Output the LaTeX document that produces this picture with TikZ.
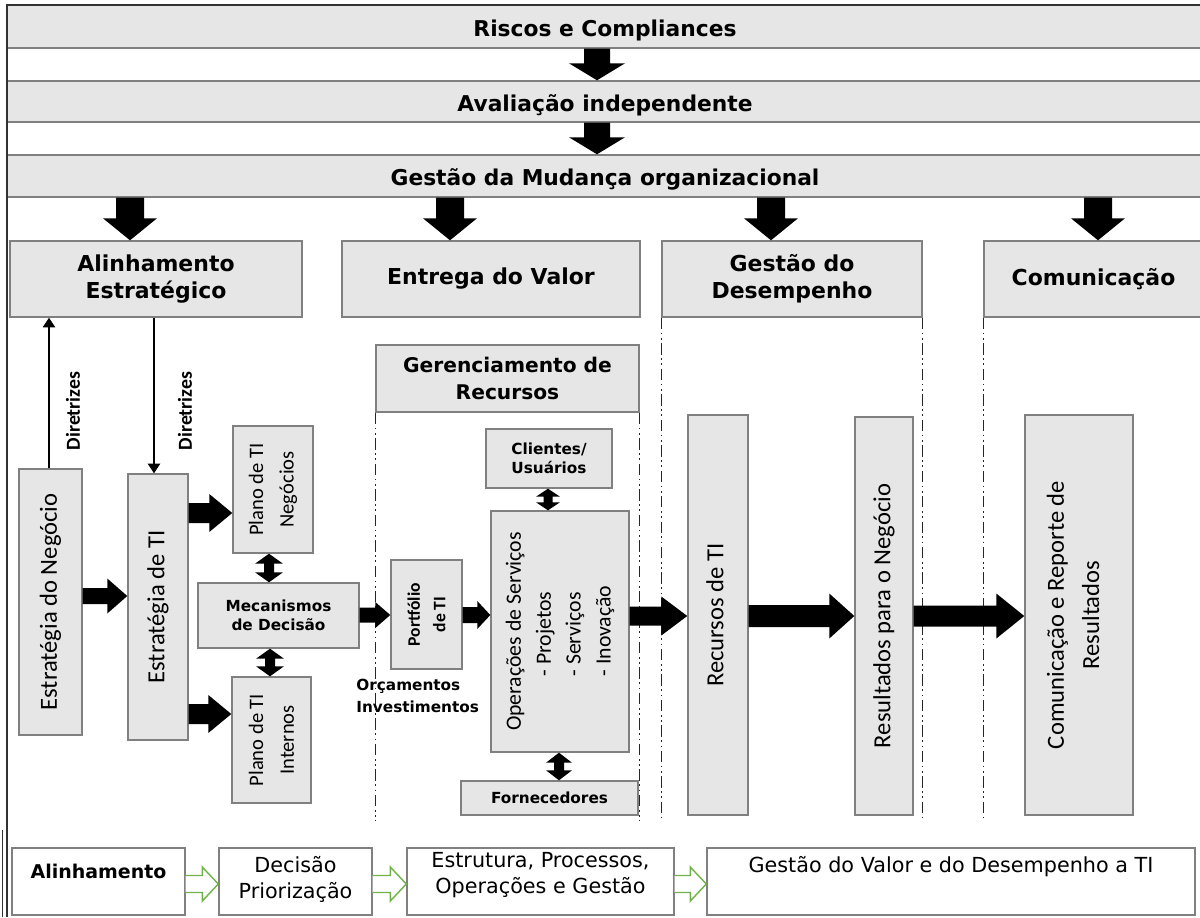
\documentclass[tikz,border=0pt]{standalone}
\usepackage{fontspec}
\setmainfont{DejaVu Sans}
\newfontfamily\calfont{Carlito}
\usetikzlibrary{calc,arrows.meta}

\definecolor{boxgray}{RGB}{230,230,230}
\definecolor{edgegray}{RGB}{128,128,128}
\definecolor{framegray}{RGB}{50,50,50}
\definecolor{hollowgreen}{RGB}{112,180,72}

\newcommand\fs[2]{\fontsize{#1}{#2}\selectfont}

% rectangle node given by its corners (x1,y1)-(x2,y2), in px with y pointing down
\newcommand\cbox[7][]{%
  \node[#1, minimum width={(#4-#2)*0.02cm}, minimum height={(#5-#3)*0.02cm}]
    (#6) at ({(#2+#4)/2},{(#3+#5)/2}) {#7};}

% right-pointing block arrow: tail, tip, shaft half-height, head half-height, head length
\newcommand\rarrow[6][fill=black]{%
  \path[#1] ($(#2)+(0,-#4)$) -- ($(#3)+(-#6,-#4)$) -- ($(#3)+(-#6,-#5)$) -- (#3)
    -- ($(#3)+(-#6,#5)$) -- ($(#3)+(-#6,#4)$) -- ($(#2)+(0,#4)$);}

% downward block arrow: tail, tip, shaft half-width, head half-width, head length
\newcommand\darrow[6][fill=black]{%
  \path[#1] ($(#2)+(-#4,0)$) -- ($(#3)+(-#4,-#6)$) -- ($(#3)+(-#5,-#6)$) -- (#3)
    -- ($(#3)+(#5,-#6)$) -- ($(#3)+(#4,-#6)$) -- ($(#2)+(#4,0)$) -- cycle;}

% vertical two-headed block arrow: top tip, bottom tip, shaft half-width, head half-width, head length
\newcommand\vdarrow[6][fill=black]{%
  \path[#1] (#2) -- ($(#2)+(#5,#6)$) -- ($(#2)+(#4,#6)$) -- ($(#3)+(#4,-#6)$)
    -- ($(#3)+(#5,-#6)$) -- (#3) -- ($(#3)+(-#5,-#6)$) -- ($(#3)+(-#4,-#6)$)
    -- ($(#2)+(-#4,#6)$) -- ($(#2)+(-#5,#6)$) -- cycle;}

\begin{document}
\begin{tikzpicture}[x=0.02cm, y=-0.02cm,
  bar/.style={draw=edgegray, fill=boxgray, line width=0.8pt, inner sep=0pt,
    text height=13pt, text depth=2pt, font=\bfseries\fs{12.4}{15}},
  head/.style={draw=edgegray, fill=boxgray, line width=0.8pt, inner sep=0pt,
    align=center, font=\bfseries\fs{12.5}{15.4}},
  gbox/.style={draw=edgegray, fill=boxgray, line width=0.8pt, inner sep=0pt, align=center},
  wbox/.style={draw=edgegray, fill=white, line width=0.8pt, inner sep=0pt},
  smallbold/.style={font=\bfseries\fs{8.7}{10.6}},
  vtext/.style={rotate=90, align=center, inner sep=0pt},
  btext/.style={align=center, inner sep=0pt, font=\fs{11.8}{14.5}},
  dashdot/.style={draw=black!85, line width=0.75pt,
    dash pattern=on 6.5pt off 2pt on 1pt off 2pt on 1pt off 2pt},
  thinarrow/.style={draw=black, line width=0.8pt, -{Triangle[length=5.5pt,width=7pt]}},
  hollow/.style={draw=hollowgreen, line width=0.8pt, fill=white, line join=miter}]

\useasboundingbox (0,0) rectangle (1200,917);
\fill[white] (0,0) rectangle (1200,917);

% reference lines for arrows and guides
\coordinate (xtop) at (597,0);
\coordinate (xalin) at (130,0);
\coordinate (xentr) at (450,0);
\coordinate (xdes) at (771,0);
\coordinate (xcom) at (1098,0);
\coordinate (xdirup) at (49,0);
\coordinate (xdirdn) at (154,0);
\coordinate (xd1) at (269,0);
\coordinate (xd2) at (270,0);
\coordinate (xd3) at (548,0);
\coordinate (xd4) at (559,0);
\coordinate (yneg) at (0,596);
\coordinate (yplneg) at (0,513);
\coordinate (yplint) at (0,714);
\coordinate (yport) at (0,615);
\coordinate (yres) at (0,616);
\coordinate (ybot) at (0,884);
\coordinate (yend) at (0,821);

% governance layers
\cbox[bar]{7}{5}{1203}{48}{bar1}{Riscos e Compliances}
\cbox[bar]{7}{81}{1203}{122}{bar2}{Avaliação independente}
\cbox[bar]{7}{155}{1203}{197}{bar3}{Gestão da Mudança organizacional}

% domain headings
\cbox[head]{10}{241}{302}{317}{alin}{Alinhamento\\Estratégico}
\cbox[head]{342}{241}{640}{317}{entr}{Entrega do Valor}
\cbox[head]{662}{241}{922}{317}{desemp}{Gestão do\\Desempenho}
\cbox[head]{984}{241}{1203}{317}{comun}{Comunicação}
\cbox[gbox, font=\bfseries\fs{11.5}{15}]{376}{345}{639}{412}{ger}{Gerenciamento de\\Recursos}

% strategy column
\cbox[gbox]{19}{469}{82}{735}{neg}{}
\node[vtext, font=\calfont\fs{14}{17}] at (neg) {Estratégia do Negócio};
\cbox[gbox]{128}{474}{188}{740}{ti}{}
\node[vtext, font=\calfont\fs{14}{17}] at (ti) {Estratégia de TI};
\cbox[gbox]{233}{426}{313}{553}{plneg}{}
\node[vtext, font=\calfont\fs{11.7}{17.5}] at (plneg) {Plano de TI\\Negócios};
\cbox[gbox, smallbold]{198}{583}{359}{648}{mec}{Mecanismos\\de Decisão}
\cbox[gbox]{232}{677}{311}{803}{plint}{}
\node[vtext, font=\calfont\fs{11.7}{17.5}] at (plint) {Plano de TI\\Internos};

% resources column
\cbox[gbox]{391}{560}{462}{669}{port}{}
\node[vtext, font=\calfont\bfseries\fs{10}{14.5}] at (port) {Portfólio\\de TI};
\cbox[gbox, smallbold]{486}{429}{612}{488}{cli}{Clientes/\\Usuários}
\cbox[gbox]{491}{511}{629}{752}{ops}{}
\node[vtext, align=left, font=\calfont\fs{12.4}{17}] at (ops) {Operações de Serviços\\
  \hspace*{31pt}- Projetos\\\hspace*{31pt}- Serviços\\\hspace*{31pt}- Inovação};
\cbox[gbox, smallbold]{461}{781}{638}{815}{forn}{Fornecedores}
\node[anchor=west, align=left, inner sep=0pt, font=\bfseries\fs{8.7}{12.5}] (orc)
  at (356,696) {Orçamentos\\Investimentos};

% performance and communication columns
\cbox[gbox]{688}{415}{748}{815}{rec}{}
\node[vtext, font=\calfont\fs{14}{17}] at ($(rec)+(-3,0)$) {Recursos de TI};
\cbox[gbox]{855}{417}{913}{815}{res}{}
\node[vtext, font=\calfont\fs{14}{17}] at (res) {Resultados para o Negócio};
\cbox[gbox]{1025}{415}{1133}{815}{crep}{}
\node[vtext, font=\calfont\fs{14}{20}] at ($(crep)+(-6,0)$) {Comunicação e Reporte de\\Resultados};

% guiding lines under the headings
\draw[dashdot] (ger.south west) -- (ger.south west |- yend);
\draw[dashdot] (ger.south east) -- (ger.south east |- yend);
\draw[dashdot] (desemp.south west) -- (desemp.south west |- yend);
\draw[dashdot] (desemp.south east) -- (desemp.south east |- yend);
\draw[dashdot] (comun.south west) -- (comun.south west |- yend);

% layer-to-layer arrows
\darrow{bar1.south -| xtop}{bar2.north -| xtop}{13}{28}{17}
\darrow{bar2.south -| xtop}{bar3.north -| xtop}{13}{28}{17}
\darrow{bar3.south -| xalin}{alin.north -| xalin}{14}{27}{22}
\darrow{bar3.south -| xentr}{entr.north -| xentr}{14}{27}{22}
\darrow{bar3.south -| xdes}{desemp.north -| xdes}{14}{27}{22}
\darrow{bar3.south -| xcom}{comun.north -| xcom}{14}{27}{22}

% directives
\draw[thinarrow] (neg.north -| xdirup) -- (alin.south -| xdirup);
\draw[thinarrow] (alin.south -| xdirdn) -- (ti.north -| xdirdn);
\node[vtext, font=\calfont\bfseries\fs{11.3}{13}] (dir1) at (73,411) {Diretrizes};
\node[vtext, font=\calfont\bfseries\fs{11.3}{13}] (dir2) at (185,411) {Diretrizes};

% process flow
\rarrow{neg.east |- yneg}{ti.west |- yneg}{8}{17.5}{20}
\rarrow{ti.east |- yplneg}{plneg.west |- yplneg}{10}{19}{23}
\rarrow{ti.east |- yplint}{plint.west |- yplint}{10}{19}{23}
\rarrow{mec.east |- yport}{port.west |- yport}{7.5}{13}{15}
\rarrow{port.east |- yport}{ops.west |- yport}{8}{14}{13}
\rarrow{ops.east |- yres}{rec.west |- yres}{9.5}{19.5}{26}
\rarrow{rec.east |- yres}{res.west |- yres}{11}{22.5}{25}
\rarrow{res.east |- yres}{crep.west |- yres}{10.5}{22.5}{28}

\vdarrow{plneg.south -| xd1}{mec.north -| xd1}{5}{14}{10}
\vdarrow{mec.south -| xd2}{plint.north -| xd2}{5}{14}{10}
\vdarrow{cli.south -| xd3}{ops.north -| xd3}{4.5}{12}{8}
\vdarrow{ops.south -| xd4}{forn.north -| xd4}{5}{13}{10}

% summary row
\cbox[wbox]{12}{848}{185}{915}{b1}{}
\cbox[wbox]{219}{848}{372}{915}{b2}{}
\cbox[wbox]{407}{848}{674}{915}{b3}{}
\cbox[wbox]{707}{848}{1195}{915}{b4}{}
\node[btext, font=\bfseries\fs{10.8}{14.5}] (t1) at ($(b1.north)+(0,24)$) {Alinhamento};
\node[btext] (t2) at ($(b2.north)+(0,32)$) {Decisão\\Priorização};
\node[btext] (t3) at ($(b3.north)+(0,28)$) {Estrutura, Processos,\\Operações e Gestão};
\node[btext] (t4) at ($(b4.north)+(0,19)$) {Gestão do Valor e do Desempenho a TI};
\rarrow[hollow]{b1.east |- ybot}{b2.west |- ybot}{8.5}{17}{16}
\rarrow[hollow]{b2.east |- ybot}{b3.west |- ybot}{8.5}{17}{16}
\rarrow[hollow]{b3.east |- ybot}{b4.west |- ybot}{8.5}{17}{16}

% outer frame
\draw[framegray, line width=1.2pt] (7,917) -- (7,5) -- (1200,5);
\draw[framegray, line width=0.6pt] (2.5,830) -- (2.5,917);
\end{tikzpicture}
\end{document}
